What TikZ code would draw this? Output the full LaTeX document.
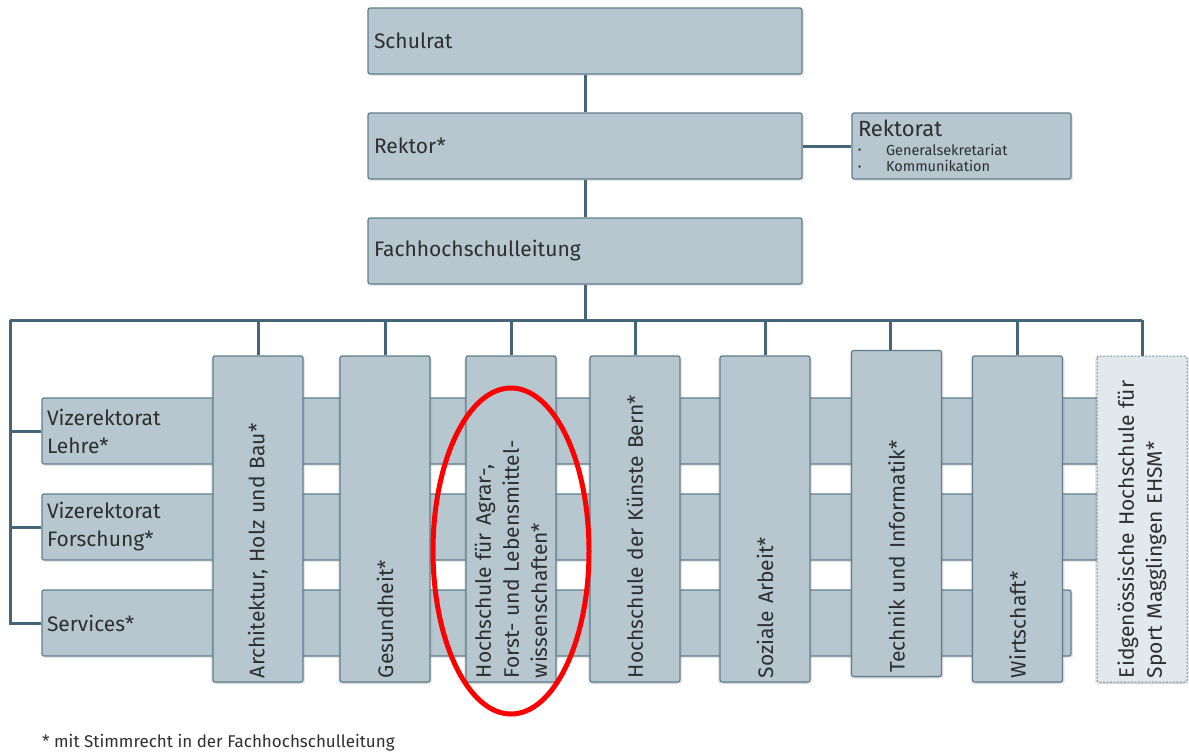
\documentclass[tikz,border=0pt]{standalone}
\usepackage{fontspec}
\setmainfont{Fira Sans}
\usetikzlibrary{shadows}
\definecolor{boxfill}{HTML}{B6C7D0}
\definecolor{boxline}{HTML}{5E7D8C}
\definecolor{wirecol}{HTML}{44667A}
\definecolor{ink}{HTML}{2E2E2E}
\definecolor{extfill}{HTML}{E2E9ED}
\definecolor{extline}{HTML}{7B95A3}
\def\bigfont{\fontsize{21}{28}\selectfont}
\def\smallfont{\fontsize{14.5}{16.5}\selectfont}
\def\dotmark{\makebox[28pt][l]{\raisebox{1.5pt}{\fontsize{10}{10}\selectfont•}}}
\tikzset{
  unit/.style={draw=boxline, fill=boxfill, line width=1.2pt, rounded corners=2pt,
    text=ink, font=\bigfont, align=left,
    drop shadow={shadow xshift=2pt, shadow yshift=-2pt, opacity=.18}},
  head/.style={unit, minimum height=66pt, text width=422pt, inner xsep=6pt},
  bar/.style={unit, minimum height=66pt, inner xsep=5pt},
  school/.style={unit, rotate=90, minimum height=90pt, text width=318pt, inner xsep=4pt,
    drop shadow={shadow xshift=-2pt, shadow yshift=-2pt, opacity=.18}},
  extern/.style={school, fill=extfill, draw=extline, line width=1pt, dash pattern=on 2pt off 1.5pt},
  link/.style={draw=wirecol, line width=3pt}
}
\begin{document}
\begin{tikzpicture}[x=1pt,y=-1pt]
  \useasboundingbox (0,0) rectangle (1189,753);

  \node[head] (schulrat) at (585,41) {Schulrat};
  \node[head] (rektor) at (585,146) {Rektor*};
  \node[unit, font=\smallfont, minimum height=66pt, text width=207pt, inner xsep=6pt] (rektorat) at (961.5,146)
    {{\fontsize{22}{22}\selectfont Rektorat}\\[2pt]
     \dotmark Generalsekretariat\\
     \dotmark Kommunikation};
  \node[head] (fhl) at (585,251) {Fachhochschulleitung};

  \draw[link] (schulrat) -- (rektor);
  \draw[link] (rektor) -- (fhl);
  \draw[link] (rektor) -- (rektorat);

  \node[bar, text width=1048pt] (lehre) at (571,431) {Vizerektorat\\Lehre*};
  \node[bar, text width=1048pt] (forschung) at (571,527) {Vizerektorat\\Forschung*};
  \node[bar, text width=1019pt] (services) at (556.5,623) {Services*};

  \node[school] (arch) at (258,519) {Architektur, Holz und Bau*};
  \node[school] (ges) at (385,519) {Gesundheit*};
  \node[school] (agr) at (511,519) {Hochschule für Agrar-,\\Forst- und Lebensmittel-\\wissenschaften*};
  \node[school] (hkb) at (635,519) {Hochschule der Künste Bern*};
  \node[school] (soz) at (765,519) {Soziale Arbeit*};
  \node[school] (ti) at (896.5,513.5) {Technik und Informatik*};
  \node[school] (wir) at (1017.5,519) {Wirtschaft*};
  \node[extern] (ehsm) at (1142,519) {Eidgenössische Hochschule für\\Sport Magglingen EHSM*};

  \coordinate (busL) at (10,320);
  \coordinate (busR) at (1142,320);
  \draw[link] (busL) -- (busR);
  \draw[link] (fhl) -- (fhl.south |- busL);
  \foreach \s in {arch,ges,agr,hkb,soz,wir,ehsm}
    \draw[link] (\s.east) -- (\s.east |- busL);
  \draw[link] ([xshift=-6pt]ti.east) -- ([xshift=-6pt]ti.east |- busL);
  \foreach \v in {lehre,forschung,services}
    \draw[link] (busL) |- (\v.west);

  \draw[red, line width=5pt] (511,551) ellipse [x radius=78, y radius=163];

  \node[anchor=west, text=ink, font=\fontsize{17}{19}\selectfont, inner sep=0pt] (note) at (42,743)
    {* mit Stimmrecht in der Fachhochschulleitung};
\end{tikzpicture}
\end{document}
